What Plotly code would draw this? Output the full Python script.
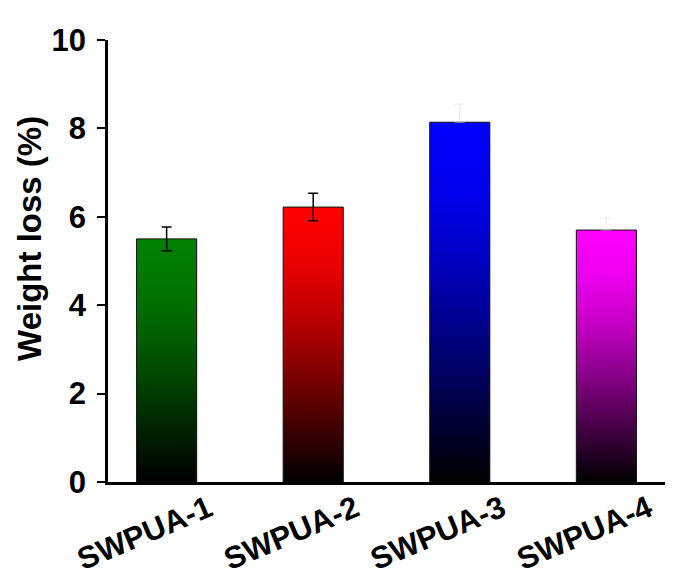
import plotly.graph_objects as go

categories = ["SWPUA-1", "SWPUA-2", "SWPUA-3", "SWPUA-4"]
weight_loss = [5.50, 6.22, 8.14, 5.70]
errors = [0.27, 0.31, 0.41, 0.27]
bar_rgb = [(0, 128, 0), (255, 0, 0), (0, 0, 255), (255, 0, 255)]
err_colors = ["#000000", "#000000", "#d8d8d8", "#d8d8d8"]
err_down = [True, True, False, False]
y_ticks = [0, 2, 4, 6, 8, 10]


def gradient(rgb):
    stops = [(0.0, 0.0), (0.2, 0.25), (0.4, 0.5), (0.6, 0.74), (0.8, 0.92), (1.0, 1.0)]
    return [[p, "rgb(%d,%d,%d)" % tuple(round(ch * k) for ch in rgb)] for p, k in stops]


half_w = 0.205
fig = go.Figure()
for i, (cat, v, c) in enumerate(zip(categories, weight_loss, bar_rgb)):
    fig.add_trace(go.Scatter(
        x=[i - half_w, i - half_w, i + half_w, i + half_w, i - half_w],
        y=[0, v, v, 0, 0],
        mode="lines", fill="toself",
        line=dict(color="#111111", width=1),
        fillgradient=dict(type="vertical", colorscale=gradient(c)),
        hoverinfo="skip", showlegend=False, name=cat,
    ))
for i, (v, e, ec, dn) in enumerate(zip(weight_loss, errors, err_colors, err_down)):
    fig.add_trace(go.Scatter(
        x=[i], y=[v], mode="markers", marker=dict(size=0.1, color="rgba(0,0,0,0)"),
        error_y=dict(type="data", symmetric=False, array=[e],
                     arrayminus=[e if dn else 0], color=ec,
                     thickness=1.5 if dn else 0.6, width=5),
        showlegend=False, hoverinfo="skip",
    ))

ff = "Liberation Sans, Arial, sans-serif"

fig.update_layout(
    width=682, height=571,
    margin=dict(l=100, r=25, t=32, b=97),
    paper_bgcolor="white", plot_bgcolor="white",
    font=dict(family=ff, size=30, color="black", weight="bold"),
    xaxis=dict(
        range=[-0.40, 3.40], tickmode="array",
        tickvals=list(range(len(categories))), ticktext=categories,
        tickangle=-23, showgrid=False, zeroline=False, automargin=False,
        showline=True, linecolor="black", linewidth=2.5,
        ticks="", ticklabelshift=42, ticklabelstandoff=-6,
        tickfont=dict(family=ff, size=31, color="black", weight="bold"),
    ),
    yaxis=dict(
        range=[0, 10], tickmode="array", tickvals=y_ticks,
        ticktext=[str(t) for t in y_ticks],
        showgrid=False, zeroline=False, automargin=False,
        showline=True, linecolor="black", linewidth=2.5,
        ticks="outside", ticklen=8, tickwidth=2, tickcolor="black",
        ticklabelstandoff=5,
        tickfont=dict(family=ff, size=31, color="black", weight="bold"),
    ),
    annotations=[dict(
        text="Weight loss (%)", textangle=-90, showarrow=False,
        xref="paper", yref="paper", x=-0.14, y=0.55,
        xanchor="center", yanchor="middle",
        font=dict(family=ff, size=33, color="black", weight="bold"),
    )],
)

fig.write_html("out.html")
